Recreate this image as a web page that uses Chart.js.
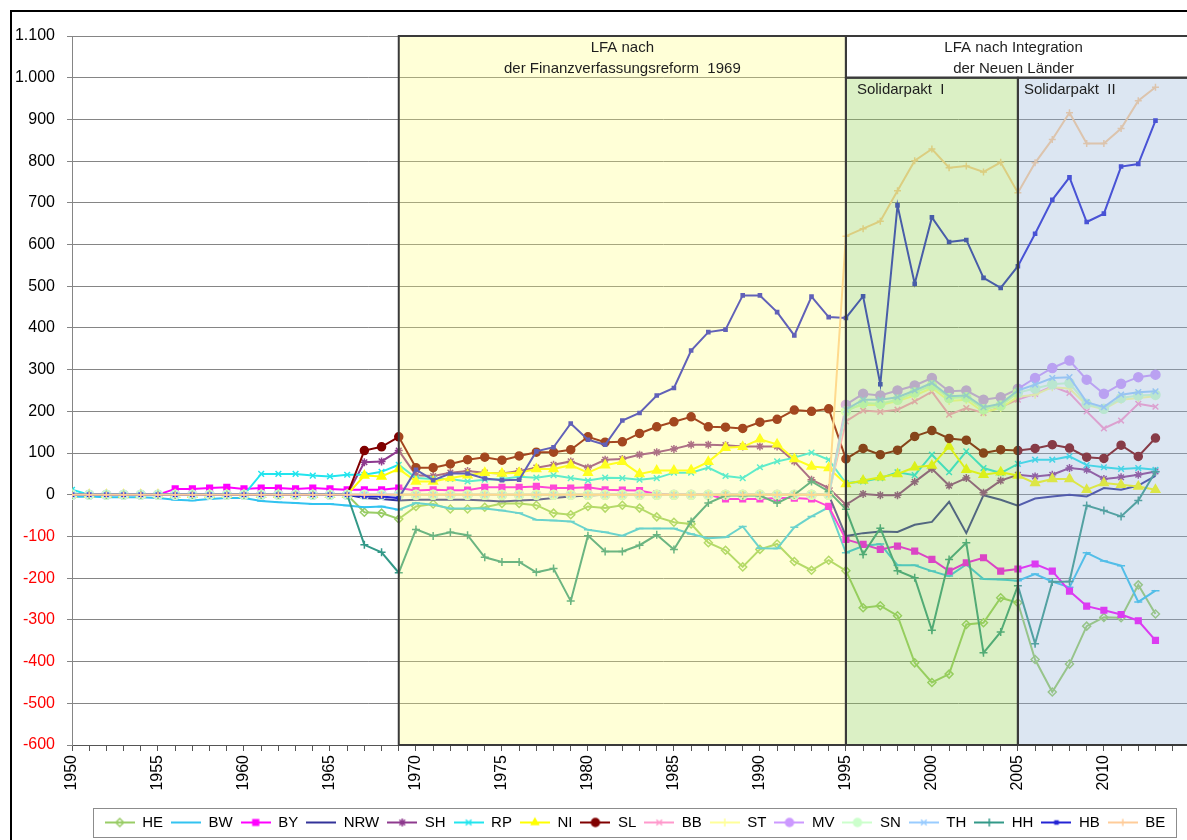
<!DOCTYPE html>
<html><head><meta charset="utf-8">
<script src="https://cdn.jsdelivr.net/npm/chart.js@4.4.1/dist/chart.umd.min.js"></script>
<style>
html,body{margin:0;padding:0;overflow:hidden;background:#fff;width:1187px;height:840px;}
#wrap{position:absolute;left:0;top:0;width:1260px;height:840px;}
</style></head><body>
<div id="wrap"><canvas id="c"></canvas></div>
<script>
const years = [
 1950,1951,1952,1953,1954,1955,1956,1957,1958,1959,1960,1961,1962,1963,1964,1965,1966,1967,1968,1969,
 1970,1971,1972,1973,1974,1975,1976,1977,1978,1979,1980,1981,1982,1983,1984,1985,1986,1987,1988,1989,1990,1991,1992,1993,1994,
 1995,1996,1997,1998,1999,2000,2001,2002,2003,2004,2005,2006,2007,2008,2009,2010,2011,2012,2013];

const HE = [
 0,0,0,0,0,0,0,0,0,0,0,0,0,0,0,0,0,-42,-44,-58,
 -28,-22,-34,-34,-30,-21,-21,-25,-44,-48,-28,-32,-25,-32,-53,-66,-70,-115,-133,-173,-131,-118,-160,-181,-157,
 -182,-271,-266,-290,-403,-450,-430,-311,-307,-247,-259,-395,-473,-406,-315,-294,-295,-216,-286];
const BW = [
 -5,-4,-6,-6,-6,-8,-12,-14,-10,-8,-8,-15,-18,-20,-22,-22,-26,-30,-28,-36,
 -20,-24,-33,-33,-33,-38,-44,-60,-62,-64,-84,-90,-98,-81,-81,-81,-94,-104,-102,-76,-128,-129,-78,-52,-30,
 -139,-123,-118,-169,-169,-183,-195,-167,-202,-203,-206,-190,-208,-222,-139,-159,-170,-257,-230];
const BY = [
 0,0,0,0,0,0,14,14,16,18,14,16,16,14,16,14,12,12,12,16,
 10,12,11,11,18,18,18,20,16,16,18,12,11,10,2,0,0,0,-10,-10,-10,-8,-8,-10,-28,
 -107,-119,-131,-123,-135,-155,-183,-163,-151,-183,-178,-166,-183,-231,-267,-277,-287,-302,-349];
const NRW = [
 0,0,0,0,0,0,0,0,0,0,0,0,0,0,0,0,0,-8,-10,-14,
 -12,-12,-12,-12,-14,-16,-14,-12,-8,-4,-2,0,0,0,0,0,0,0,0,0,0,0,0,0,0,
 -99,-92,-88,-89,-72,-65,-17,-92,-1,-12,-26,-9,-4,0,-4,16,12,22,45];
const SH = [
 0,0,0,0,0,0,0,0,0,0,0,0,0,0,0,0,0,78,80,106,
 47,45,53,57,53,51,57,65,72,80,65,84,86,96,102,110,120,120,119,116,116,116,80,36,16,
 -24,2,-1,-1,31,62,22,40,5,34,48,44,48,64,60,38,42,48,56];
const RP = [
 12,0,0,0,0,0,0,0,0,0,0,50,50,50,46,44,48,48,55,72,
 40,38,38,32,36,38,43,41,47,40,34,41,40,36,40,53,53,65,45,40,66,80,89,101,84,
 28,32,40,54,47,96,54,104,64,52,74,84,84,92,71,66,62,64,60];
const NI = [
 0,0,0,0,0,0,0,0,0,0,0,0,0,0,0,0,0,46,44,62,
 32,32,40,47,53,51,53,62,62,71,53,71,79,50,58,58,59,79,113,115,133,121,86,68,64,
 26,34,42,50,66,70,116,60,48,54,46,28,38,38,12,28,24,20,12];
const SL = [
 0,0,0,0,0,0,0,0,0,0,0,0,0,0,0,0,0,106,115,139,
 65,65,74,84,90,83,93,102,102,108,139,126,127,147,163,175,187,163,162,159,174,181,203,200,206,
 86,111,96,107,140,154,135,131,100,108,106,111,120,112,90,87,119,92,136];
const BB = [
 0,0,0,0,0,0,0,0,0,0,0,0,0,0,0,0,0,0,0,0,
 0,0,0,0,0,0,0,0,0,0,0,0,0,0,0,0,0,0,0,0,0,0,0,0,0,
 176,202,199,204,224,247,192,208,196,210,228,242,260,244,200,159,178,218,211];
const ST = [
 0,0,0,0,0,0,0,0,0,0,0,0,0,0,0,0,0,0,0,0,
 0,0,0,0,0,0,0,0,0,0,0,0,0,0,0,0,0,0,0,0,0,0,0,0,0,
 205,215,215,225,238,256,225,228,198,208,235,240,258,255,215,205,228,232,236];
const MV = [
 0,0,0,0,0,0,0,0,0,0,0,0,0,0,0,0,0,0,0,0,
 0,0,0,0,0,0,0,0,0,0,0,0,0,0,0,0,0,0,0,0,0,0,0,0,0,
 216,242,238,250,262,280,248,250,228,234,254,280,304,322,276,242,266,282,288];
const SN = [
 0,0,0,0,0,0,0,0,0,0,0,0,0,0,0,0,0,0,0,0,
 0,0,0,0,0,0,0,0,0,0,0,0,0,0,0,0,0,0,0,0,0,0,0,0,0,
 200,220,218,228,245,262,232,234,205,214,245,255,265,268,218,206,232,238,240];
const TH = [
 0,0,0,0,0,0,0,0,0,0,0,0,0,0,0,0,0,0,0,0,
 0,0,0,0,0,0,0,0,0,0,0,0,0,0,0,0,0,0,0,0,0,0,0,0,0,
 204,228,228,234,250,268,236,238,210,218,250,264,280,282,222,210,240,246,248];
const HH = [
 0,0,0,0,0,0,0,0,0,0,0,0,0,0,0,0,0,-120,-138,-187,
 -83,-99,-90,-97,-150,-161,-161,-186,-177,-255,-98,-136,-136,-121,-96,-131,-64,-20,-2,-2,-2,-20,0,32,8,
 -35,-143,-80,-182,-199,-325,-155,-115,-379,-329,-218,-357,-209,-208,-26,-38,-52,-14,55];
const HB = [
 0,0,0,0,0,0,0,0,0,0,0,0,0,0,0,0,0,-4,-4,-8,
 60,35,51,51,39,35,36,104,114,171,132,120,178,196,238,256,346,390,396,478,478,438,382,475,426,
 424,476,265,694,506,665,606,611,520,496,548,626,707,761,654,674,787,793,897];
const BE = [
 0,0,0,0,0,0,0,0,0,0,0,0,0,0,0,0,0,0,0,0,
 0,0,0,0,0,0,0,0,0,0,0,0,0,0,0,0,0,0,0,0,0,0,0,0,0,
 620,638,656,729,801,829,784,788,774,797,724,796,852,916,842,842,878,945,977];

const seriesNames = ['HE','BW','BY','NRW','SH','RP','NI','SL','BB','ST','MV','SN','TH','HH','HB','BE'];
const seriesValues = [HE,BW,BY,NRW,SH,RP,NI,SL,BB,ST,MV,SN,TH,HH,HB,BE];
const seriesColors = ['#99CC66','#33C3F0','#FF00FF','#333399','#8E3A8E','#22E5EE','#FFFF00','#800000',
                      '#FF99CC','#FFFF99','#CC99FF','#CCFFCC','#99CCFF','#339988','#2424D4','#FFCC99'];
const seriesMarkers = ['rectRot','line','rect',false,'star','crossRot','triangle','circle',
                       'crossRot','cross','circle','circle','crossRot','cross','rect','cross'];
const markerFilled = [false,true,true,true,true,true,true,true,true,true,true,true,true,true,true,true];
const markerSizes = [4,4,4,0,4,4,5,4,4,4,4.5,4.5,4,4,2.2,3.5];

const yTicks = {min:-600, max:1100, step:100};
const periods = {lfa69:1969, soli1:1995, soli2:2005, axisEnd:2018.7, textEnd:2014.5};
const FONT = "'Liberation Sans', Arial, sans-serif";

const datasets = seriesNames.map((name, i) => ({
  label: name,
  data: years.map((yr, k) => ({x: yr, y: seriesValues[i][k]})),
  borderColor: seriesColors[i],
  backgroundColor: seriesColors[i],
  borderWidth: 2,
  pointStyle: seriesMarkers[i] || 'circle',
  pointRadius: markerSizes[i],
  pointHoverRadius: markerSizes[i],
  pointBorderColor: seriesColors[i],
  pointBackgroundColor: markerFilled[i] ? seriesColors[i] : 'rgba(0,0,0,0)',
  pointBorderWidth: 1.5,
  tension: 0,
  order: -i
}));

const icons = datasets.map(ds => {
  const c = document.createElement('canvas'); c.width = 30; c.height = 14;
  const g = c.getContext('2d');
  g.strokeStyle = ds.borderColor; g.lineWidth = 2;
  g.beginPath(); g.moveTo(0, 7); g.lineTo(30, 7); g.stroke();
  if (ds.pointRadius > 0) {
    g.fillStyle = ds.pointBackgroundColor; g.strokeStyle = ds.pointBorderColor; g.lineWidth = 1.5;
    Chart.helpers.drawPoint(g, {pointStyle: ds.pointStyle, radius: Math.min(ds.pointRadius, 4), rotation: 0, borderWidth: 1.5}, 15, 7);
  }
  return c;
});

const fmt = v => {
  const a = Math.abs(v);
  const s = a >= 1000 ? Math.floor(a/1000) + '.' + String(a % 1000).padStart(3, '0') : String(a);
  return (v < 0 ? '-' : '') + s;
};

const overlay = {
  id: 'overlay',
  afterDatasetsDraw(chart) {
    const {ctx, chartArea} = chart;
    const X = v => chart.scales.x.getPixelForValue(v);
    const Y = v => chart.scales.y.getPixelForValue(v);
    const top = Y(1100), mid = Y(1000), bot = Y(-600), right = chartArea.right;
    const x69 = X(periods.lfa69), x95 = X(periods.soli1), x05 = X(periods.soli2);
    ctx.save();
    ctx.fillStyle = 'rgba(255,255,110,0.28)';
    ctx.fillRect(x69, top, x95 - x69, bot - top);
    ctx.fillStyle = '#ffffff';
    ctx.fillRect(x95, top, right - x95, mid - top);
    ctx.fillStyle = 'rgba(146,208,80,0.33)';
    ctx.fillRect(x95, mid, x05 - x95, bot - mid);
    ctx.fillStyle = 'rgba(149,179,215,0.33)';
    ctx.fillRect(x05, mid, right - x05, bot - mid);
    ctx.strokeStyle = '#3a3a3a'; ctx.lineWidth = 2;
    ctx.strokeRect(x69, top, x95 - x69, bot - top);
    ctx.strokeRect(x95, top, right - x95 + 5, mid - top);
    ctx.strokeRect(x95, mid, x05 - x95, bot - mid);
    ctx.strokeRect(x05, mid, right - x05 + 5, bot - mid);
    ctx.fillStyle = '#1e1e1e';
    ctx.font = "15px " + FONT;
    ctx.textAlign = 'center'; ctx.textBaseline = 'middle';
    const cy = (x69 + x95) / 2;
    ctx.fillText('LFA nach', cy, top + 12);
    ctx.fillText('der Finanzverfassungsreform  1969', cy, top + 33);
    const cx2 = (x95 + X(periods.textEnd)) / 2;
    ctx.fillText('LFA nach Integration', cx2, top + 12);
    ctx.fillText('der Neuen Länder', cx2, top + 33);
    ctx.textAlign = 'left';
    ctx.fillText('Solidarpakt  I', x95 + 11, mid + 12);
    ctx.fillText('Solidarpakt  II', x05 + 6, mid + 12);
    ctx.restore();
  },
  afterDraw(chart) {
    const {ctx} = chart;
    ctx.save();
    ctx.strokeStyle = '#000'; ctx.lineWidth = 2;
    ctx.strokeRect(11, 11, 1400, 1000);
    const lg = chart.legend;
    if (lg && lg.legendHitBoxes && lg.legendHitBoxes.length) {
      const hb = lg.legendHitBoxes;
      const l = Math.min(...hb.map(h => h.left)) - 12;
      const r = Math.max(...hb.map(h => h.left + h.width)) + 10;
      const t = Math.min(...hb.map(h => h.top)) - 7;
      const b = Math.max(...hb.map(h => h.top + h.height)) + 7;
      ctx.strokeStyle = '#8c8c8c'; ctx.lineWidth = 1;
      ctx.strokeRect(Math.round(l) + 0.5, Math.round(t) + 0.5, Math.round(r - l), Math.round(b - t));
    }
    ctx.restore();
  }
};

new Chart(document.getElementById('c'), {
  type: 'line',
  data: {datasets},
  options: {
    responsive: true, maintainAspectRatio: false, animation: false,
    layout: {padding: {left: 10, top: 36, right: 0, bottom: 0}},
    plugins: {
      tooltip: {enabled: false},
      legend: {
        position: 'bottom',
        labels: {
          usePointStyle: true, pointStyleWidth: 30, padding: 8,
          font: {family: FONT, size: 15}, color: '#000',
          sort: (a, b) => a.datasetIndex - b.datasetIndex,
          generateLabels: (chart) => {
            const items = Chart.defaults.plugins.legend.labels.generateLabels(chart);
            items.forEach(it => { it.pointStyle = icons[it.datasetIndex]; it.fontColor = '#000'; it.rotation = 0; });
            return items;
          }
        }
      }
    },
    scales: {
      x: {
        type: 'linear', min: years[0], max: periods.axisEnd,
        ticks: {
          stepSize: 1, autoSkip: false, minRotation: 90, maxRotation: 90, padding: 4,
          font: {family: FONT, size: 16}, color: '#000',
          callback: v => (v % 5 === 0 && v <= 2010) ? String(v) : ''
        },
        grid: {drawOnChartArea: false, drawTicks: true, tickLength: 6, color: '#555', lineWidth: 1},
        border: {display: true, color: '#555', width: 1},
        afterFit: s => { s.height = 62; s.paddingLeft = 0; s.paddingRight = 0; }
      },
      y: {
        min: yTicks.min, max: yTicks.max,
        ticks: {
          stepSize: yTicks.step, padding: 12,
          font: {family: FONT, size: 16},
          color: c => (c.tick && c.tick.value < 0) ? '#FF0000' : '#000',
          callback: v => fmt(v)
        },
        grid: {color: '#858585', lineWidth: 1, tickLength: 5},
        border: {display: true, color: '#858585', width: 1},
        afterFit: s => { s.width = 62; }
      }
    }
  },
  plugins: [overlay]
});
</script>
</body></html>
